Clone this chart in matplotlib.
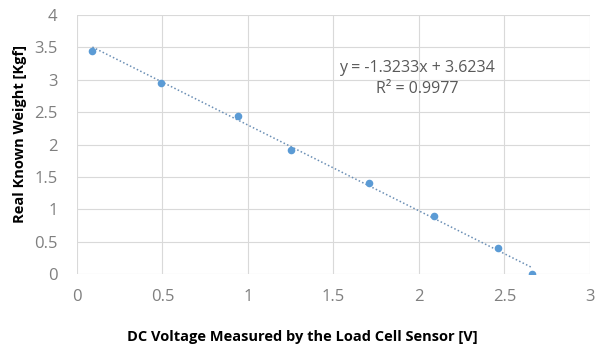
import matplotlib.pyplot as plt
import numpy as np

# measured points
voltage = [0.09, 0.49, 0.94, 1.25, 1.71, 2.09, 2.46, 2.66]
weight = [3.45, 2.95, 2.44, 1.92, 1.41, 0.90, 0.40, 0.0]
slope = -1.3233
intercept = 3.6234
x_ticks = [0, 0.5, 1, 1.5, 2, 2.5, 3]
y_ticks = [0, 0.5, 1, 1.5, 2, 2.5, 3, 3.5, 4]

plt.rcParams['font.family'] = ['Open Sans', 'DejaVu Sans']
blue = '#5b9bd5'

fig = plt.figure(figsize=(5.97, 3.47), dpi=100)
ax = fig.add_axes([0.129, 0.21, 0.859, 0.747])

# trendline between first and last point
xs = np.array([voltage[0], voltage[-1]])
ax.plot(xs, slope * xs + intercept, linestyle=(0, (1, 1.5)), color='#6b8fb5', linewidth=1.1, zorder=2)
ax.scatter(voltage, weight, s=30, color=blue, zorder=3, linewidths=0)

ax.set_xlim(0, 3)
ax.set_ylim(0, 4)
ax.set_xticks(x_ticks)
ax.set_yticks(y_ticks)
ax.set_xticklabels([f'{t:g}' for t in x_ticks])
ax.set_yticklabels([f'{t:g}' for t in y_ticks])
ax.grid(True, color='#d9d9d9', linewidth=0.8)
ax.set_axisbelow(True)
for s in ax.spines.values():
    s.set_visible(False)
ax.tick_params(length=0, labelsize=12, labelcolor='#7f7f7f', pad=11)
ax.tick_params(axis='y', pad=14)

ax.set_xlabel('DC Voltage Measured by the Load Cell Sensor [V]', fontsize=10.5, fontweight='bold')
ax.xaxis.set_label_coords(0.44, -0.215)
ax.set_ylabel('Real Known Weight [Kgf]', fontsize=10.5, fontweight='bold')
ax.yaxis.set_label_coords(-0.097, 0.54)

ax.text(1.99, 3.02, 'y = -1.3233x + 3.6234\nR² = 0.9977', ha='center', va='center',
        fontsize=11.5, color='#595959', linespacing=1.35)

plt.savefig('out.png', dpi=100)
